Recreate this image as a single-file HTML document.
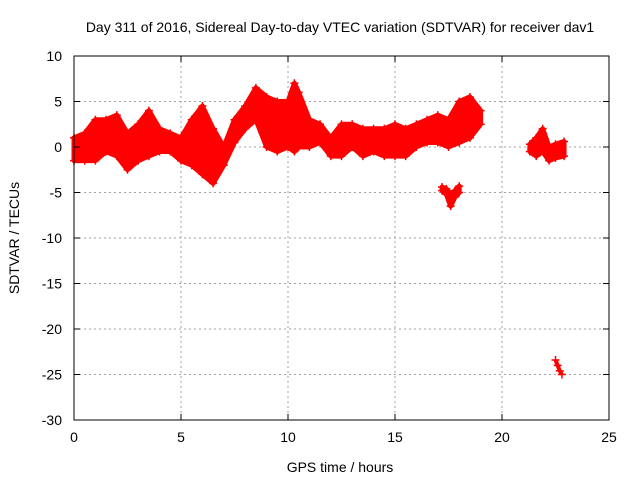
<!DOCTYPE html>
<html><head><meta charset="utf-8"><style>
body{margin:0;background:#fff}
svg text{font-family:"Liberation Sans",sans-serif;font-size:14px;fill:#000}
</style></head><body>
<svg id="c" width="640" height="480" xmlns="http://www.w3.org/2000/svg">
<rect width="640" height="480" fill="#fff"/>
<text x="340" y="32" text-anchor="middle">Day 311 of 2016, Sidereal Day-to-day VTEC variation (SDTVAR) for receiver dav1</text>
<text x="340" y="472" text-anchor="middle">GPS time / hours</text>
<text transform="translate(19,238) rotate(-90)" text-anchor="middle">SDTVAR / TECUs</text>
<g id="grid"></g><g id="data"></g><g id="axes"></g>
</svg>
<script>
const xTicks=[0,5,10,15,20,25];
const yTicks=[10,5,0,-5,-10,-15,-20,-25,-30];
// main segment envelope
const mainHours=[0,0.5,1,1.5,2,2.5,3,3.5,4,4.5,5,5.5,6,6.5,7,7.5,8,8.5,9,9.5,10,10.3,10.5,11,11.5,12,12.5,13,13.5,14,14.5,15,15.5,16,16.5,17,17.5,18,18.5,19];
const mainLow=[-1.5,-1.5,-1.5,-0.5,-1,-2.5,-1.5,-1,-0.5,-0.5,-1.5,-2,-3,-4,-2,0.5,2,3,0,-0.5,0,-0.5,0,0,0.5,-1,-1,0,-1,-0.5,-1,-1,-1,0,0.5,0.5,0,0.5,1,2.5];
const mainHigh=[1,1.5,3,3,3.5,1.5,2.5,4,2,1.5,1,3,4.5,2,0,3,4.5,6.5,5.5,5,5,7,6,3,2.5,1,2.5,2.5,2,2,2,2.5,2,2.5,3,3.5,3,5,5.5,4];
const seg2Hours=[17.2,17.4,17.6,17.8,18.0];
const seg2Low=[-4.8,-5.2,-6.5,-5.5,-5];
const seg2High=[-4.4,-4.6,-5.2,-4.8,-4.3];
const seg3Hours=[21.3,21.6,21.9,22.2,22.5,22.9];
const seg3Low=[-0.5,-1,-0.5,-1.5,-1.2,-1];
const seg3High=[0.3,1,2,0,0.3,0.6];
const seg4Hours=[22.5,22.6,22.7,22.8];
const seg4Values=[-23.4,-24,-24.6,-25];

const X0=74,X1=609,Y0=420,Y1=56;
const xs=h=>X0+(h-0)/(25-0)*(X1-X0);
const ys=v=>Y0-(v+30)/40*(Y0-Y1);
const NS="http://www.w3.org/2000/svg";
const g=document.getElementById('grid'),d=document.getElementById('data'),a=document.getElementById('axes');
function mk(tag,at,p){const e=document.createElementNS(NS,tag);for(const k in at)e.setAttribute(k,at[k]);p.appendChild(e);return e;}
xTicks.forEach(t=>{
 if(t>0&&t<25){const l=mk('line',{x1:xs(t),x2:xs(t),y1:Y1,y2:Y0,stroke:'#a0a0a0','stroke-dasharray':'2,3'},g);
 
 }
 const tx=mk('text',{x:xs(t),y:Y0+22,'text-anchor':'middle'},a);tx.textContent=t;
 
 
 mk('line',{x1:xs(t),x2:xs(t),y1:Y0,y2:Y0-6,stroke:'#000'},a);mk('line',{x1:xs(t),x2:xs(t),y1:Y1,y2:Y1+6,stroke:'#000'},a);
});
yTicks.forEach(t=>{
 if(t<10&&t>-30){const l=mk('line',{x1:X0,x2:X1,y1:ys(t),y2:ys(t),stroke:'#a0a0a0','stroke-dasharray':'2,3'},g);
 
 }
 const tx=mk('text',{x:X0-12,y:ys(t)+5,'text-anchor':'end'},a);tx.textContent=t;
 
 
 mk('line',{x1:X0,x2:X0+6,y1:ys(t),y2:ys(t),stroke:'#000'},a);mk('line',{x1:X1,x2:X1-6,y1:ys(t),y2:ys(t),stroke:'#000'},a);
});
const fr=mk('rect',{x:X0,y:Y1,width:X1-X0,height:Y0-Y1,fill:'none',stroke:'#000'},a);


function plus(h,v){const x=xs(h),y=ys(v);
 const p=mk('path',{d:`M${x-4},${y}H${x+4}M${x},${y-4}V${y+4}`,stroke:'#f00','stroke-width':1.5},d);
 
 }
function band(H,L,U,name){
 let pts=H.map((h,i)=>xs(h)+','+ys(U[i]));
 pts=pts.concat(H.map((h,i)=>xs(h)+','+ys(L[i])).reverse());
 const p=mk('polygon',{points:pts.join(' '),fill:'#f00',stroke:'#f00','stroke-width':5,'stroke-linejoin':'round'},d);
 
 
 H.forEach((h,i)=>{plus(h,L[i]);plus(h,U[i]);});
}
band(mainHours,mainLow,mainHigh,'sdtvar-main-band');
band(seg2Hours,seg2Low,seg2High,'sdtvar-dip-band');
band(seg3Hours,seg3Low,seg3High,'sdtvar-late-band');
seg4Hours.forEach((h,i)=>plus(h,seg4Values[i]));
const pl=mk('polyline',{points:seg4Hours.map((h,i)=>xs(h)+','+ys(seg4Values[i])).join(' '),fill:'none',stroke:'#f00','stroke-width':4},d);


</script>
</body></html>
